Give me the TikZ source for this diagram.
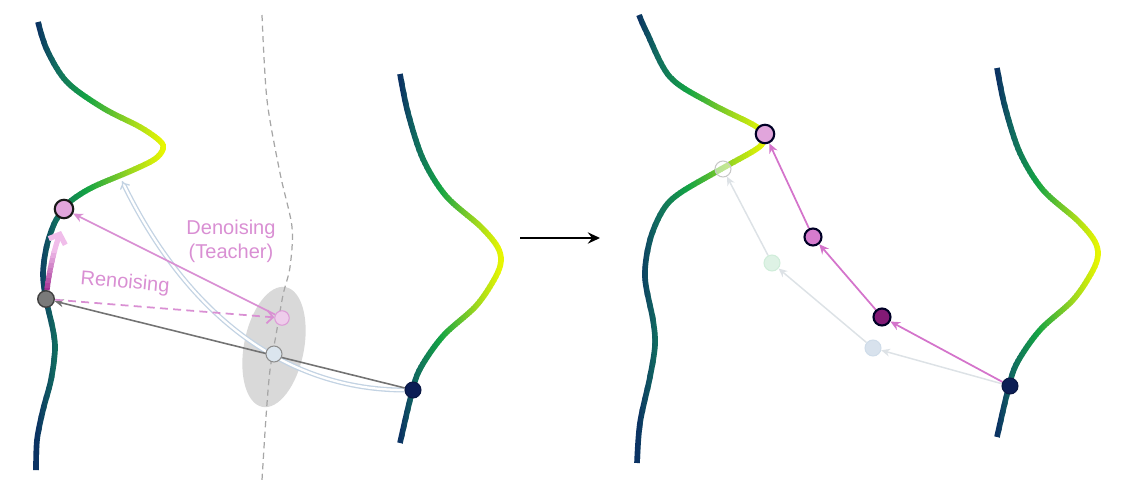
\documentclass[tikz,border=0pt]{standalone}
\usepackage{fontspec}
\setmainfont{Liberation Sans}
\usepackage{tikz}
\usetikzlibrary{arrows.meta}
\definecolor{vnavy}{HTML}{0B2F63}
\definecolor{vteal}{HTML}{116A60}
\definecolor{vgreen}{HTML}{14A444}
\definecolor{vlime}{HTML}{9ED81E}
\definecolor{vyellow}{HTML}{EAF700}
\definecolor{orchid}{HTML}{D98FD3}
\definecolor{stepmagenta}{HTML}{D474CB}
\definecolor{renodark}{HTML}{9A1F8A}
\definecolor{renolight}{HTML}{F0BDEA}
\definecolor{ghost}{HTML}{DDE2E6}
\definecolor{softblue}{HTML}{C3D3E3}
\definecolor{navy_dot}{HTML}{0C1E55}

\pgfdeclarelayer{back}
\pgfsetlayers{back,main}

% colour along the density curves (0 = tail, 1 = peak)
\newcommand\curvecolour[1]{%
  \pgfmathsetmacro\cf{#1}%
  \ifdim\cf pt<0.15pt
    \pgfmathsetmacro\cp{\cf/0.15*100}\colorlet{curvecol}{vteal!\cp!vnavy}%
  \else\ifdim\cf pt<0.4pt
    \pgfmathsetmacro\cp{(\cf-0.15)/0.25*100}\colorlet{curvecol}{vgreen!\cp!vteal}%
  \else\ifdim\cf pt<0.75pt
    \pgfmathsetmacro\cp{(\cf-0.4)/0.35*100}\colorlet{curvecol}{vlime!\cp!vgreen}%
  \else
    \pgfmathsetmacro\cp{(\cf-0.75)/0.25*100}\colorlet{curvecol}{vyellow!\cp!vlime}%
  \fi\fi\fi}

\newcommand\gradcurve[3]{%
  \foreach \k in {0,...,49}{%
    \pgfmathsetmacro\xa{ifthenelse(\k==0,#2-30,#2+(#3-#2)*\k/50)}%
    \pgfmathsetmacro\xb{ifthenelse(\k==49,#3+30,#2+(#3-#2)*(\k+1)/50+0.5)}%
    \curvecolour{(\k+0.5)/50}%
    \begin{scope}
      \clip (\xa,-10) rectangle (\xb,510);
      \draw[flowline,curvecol] #1;
    \end{scope}
  }}

\def\curveLL{plot[smooth,tension=0.55] coordinates {(38,22) (47,50) (67,82)
  (103,108) (140,127) (160,141) (163,149) (155,159) (133,170) (93,187)
  (72,200) (64,209) (55,222) (47,245) (43,273) (46,299) (53,330) (55,350)
  (51,380) (43,410) (37,440) (36,470)}}
\def\curveRL{plot[smooth,tension=0.55] coordinates {(639,15) (647,33)
  (670,77) (710,103) (750,123) (762,131) (765,137) (758,148) (723,168)
  (680,193) (663,210) (650,240) (645,277) (653,320) (655,345) (650,377)
  (640,423) (637,463)}}
\def\curveRR{plot[smooth,tension=0.55] coordinates {(997,68) (1005,107)
  (1020,153) (1043,190) (1077,220) (1094,240) (1098,255) (1092,272)
  (1073,300) (1040,330) (1017,363) (1008,390) (997,437)}}

\begin{document}
\begin{tikzpicture}[x=0.02cm, y=-0.02cm,
    flowline/.style={line width=3.2pt},
    dot/.style={circle, inner sep=0pt, minimum size=0.32cm, line width=0.6pt},
    targetdot/.style={dot, minimum size=0.37cm, fill=orchid!80, draw=black!90, line width=1.2pt},
    graydot/.style={dot, minimum size=0.33cm, fill=black!52, draw=black!75, line width=0.8pt},
    softpinkdot/.style={dot, minimum size=0.29cm, fill=orchid!45, draw=orchid!90},
    softbluedot/.style={dot, fill=softblue!60, draw=black!45},
    navydot/.style={dot, fill=navy_dot, draw=navy_dot!80!black},
    stepdot/.style={dot, minimum size=0.34cm, draw=black!85!blue, line width=1.2pt},
    ghostdot/.style={dot, line width=0.6pt},
    label/.style={text=orchid, font=\fontsize{11.4}{13.7}\selectfont, align=center},
    guide/.style={draw=black!35, line width=0.7pt, dash pattern=on 3.5pt off 2.5pt},
    teacher/.style={draw=orchid, line width=1pt, -{Stealth[length=5.5pt,width=5pt]}},
    renoise/.style={draw=orchid, line width=1pt, dash pattern=on 4.5pt off 3pt,
      -{Straight Barb[length=3.5pt,width=7.5pt]}},
    student/.style={draw=black!55, line width=0.9pt, -{Stealth[length=5pt,width=4.5pt]}},
    flowarrow/.style={draw=softblue, double=white, double distance=1.3pt, line width=0.75pt,
      -{Implies}},
    steparrow/.style={draw=stepmagenta, line width=1pt, -{Stealth[length=5.5pt,width=5pt]}},
    ghostarrow/.style={draw=ghost, line width=0.85pt, -{Stealth[length=5pt,width=4.5pt]}}]

    \useasboundingbox (0,0) rectangle (1130,497);

    % left panel
    \node[targetdot] (tgtL) at (64,209) {};
    \node[graydot] (grayN) at (46,299) {};
    \node[softpinkdot] (pinkS) at (282,318) {};
    \node[softbluedot] (blueS) at (274,354) {};
    \node[navydot] (navyL) at (413,390) {};
    \coordinate (flowTip) at (122,181);
    \coordinate (renoTip) at (61,231);

    \node[label] (denoiseLbl) at (231,241) {Denoising\\(Teacher)};
    \node[label, rotate=-5] (renoiseLbl) at (125,283) {Renoising};

    % right panel
    \node[targetdot, draw=black!85!blue] (tgtR) at (765,134) {};
    \node[stepdot, fill=stepmagenta!95] (midR) at (813,237) {};
    \node[stepdot, fill=renodark!85!black] (darkR) at (882,317) {};
    \node[navydot] (navyR) at (1010,386) {};
    \node[ghostdot, draw=black!22, fill=white, fill opacity=0.5] (fadeA) at (723,169) {};
    \node[ghostdot, draw=vgreen!20, fill=vgreen!14] (fadeB) at (772,263) {};
    \node[ghostdot, draw=softblue!80, fill=softblue!65] (fadeC) at (873,348) {};

    \coordinate (arrS) at (520,238);
    \coordinate (arrE) at (600,238);

    \begin{pgfonlayer}{back}
    \fill[black!15, rotate around={-11:(274,347)}] (274,347) ellipse (30 and 61);
    \draw[guide] plot[smooth] coordinates {(262,15) (267,100) (280,173) (292,227)
      (290,267) (283,295) (276,335) (270,370) (266,417) (262,480)};

    \gradcurve{\curveLL}{36}{164}
    \begin{scope}[shift={(-597,6)}]
      \gradcurve{\curveRR}{997}{1099}
    \end{scope}
    \gradcurve{\curveRL}{637}{766}
    \gradcurve{\curveRR}{997}{1099}

    % renoising step along the curve
    \foreach \k in {0,...,9}{
      \pgfmathsetmacro\ya{ifthenelse(\k==0,330,297-\k*5)}
      \pgfmathsetmacro\yb{ifthenelse(\k==9,200,291.5-\k*5)}
      \pgfmathsetmacro\cq{\k*11.1}
      \colorlet{renocol}{renolight!\cq!renodark}
      \begin{scope}
        \clip (0,\yb) rectangle (120,\ya);
        \draw[renocol, line width=3pt, -{Straight Barb[length=4.5pt,width=10pt]}]
          (grayN) .. controls (49,272) and (54,250) .. (renoTip);
      \end{scope}
    }

    \draw[flowarrow] (navyL) .. controls (290,390) and (190,320) .. (flowTip);
    \draw[student] (navyL) -- (grayN);
    \draw[teacher] (pinkS) -- (tgtL);
    \draw[renoise] (grayN) -- (pinkS);

    \draw[ghostarrow] (navyR) -- (fadeC);
    \draw[ghostarrow] (fadeC) -- (fadeB);
    \draw[ghostarrow] (fadeB) -- (fadeA);
    \draw[steparrow] (navyR) -- (darkR);
    \draw[steparrow] (darkR) -- (midR);
    \draw[steparrow] (midR) -- (tgtR);

    \draw[line width=0.85pt, -{Stealth[length=7pt,width=6.5pt,inset=2.5pt]}] (arrS) -- (arrE);
    \end{pgfonlayer}

\end{tikzpicture}
\end{document}
